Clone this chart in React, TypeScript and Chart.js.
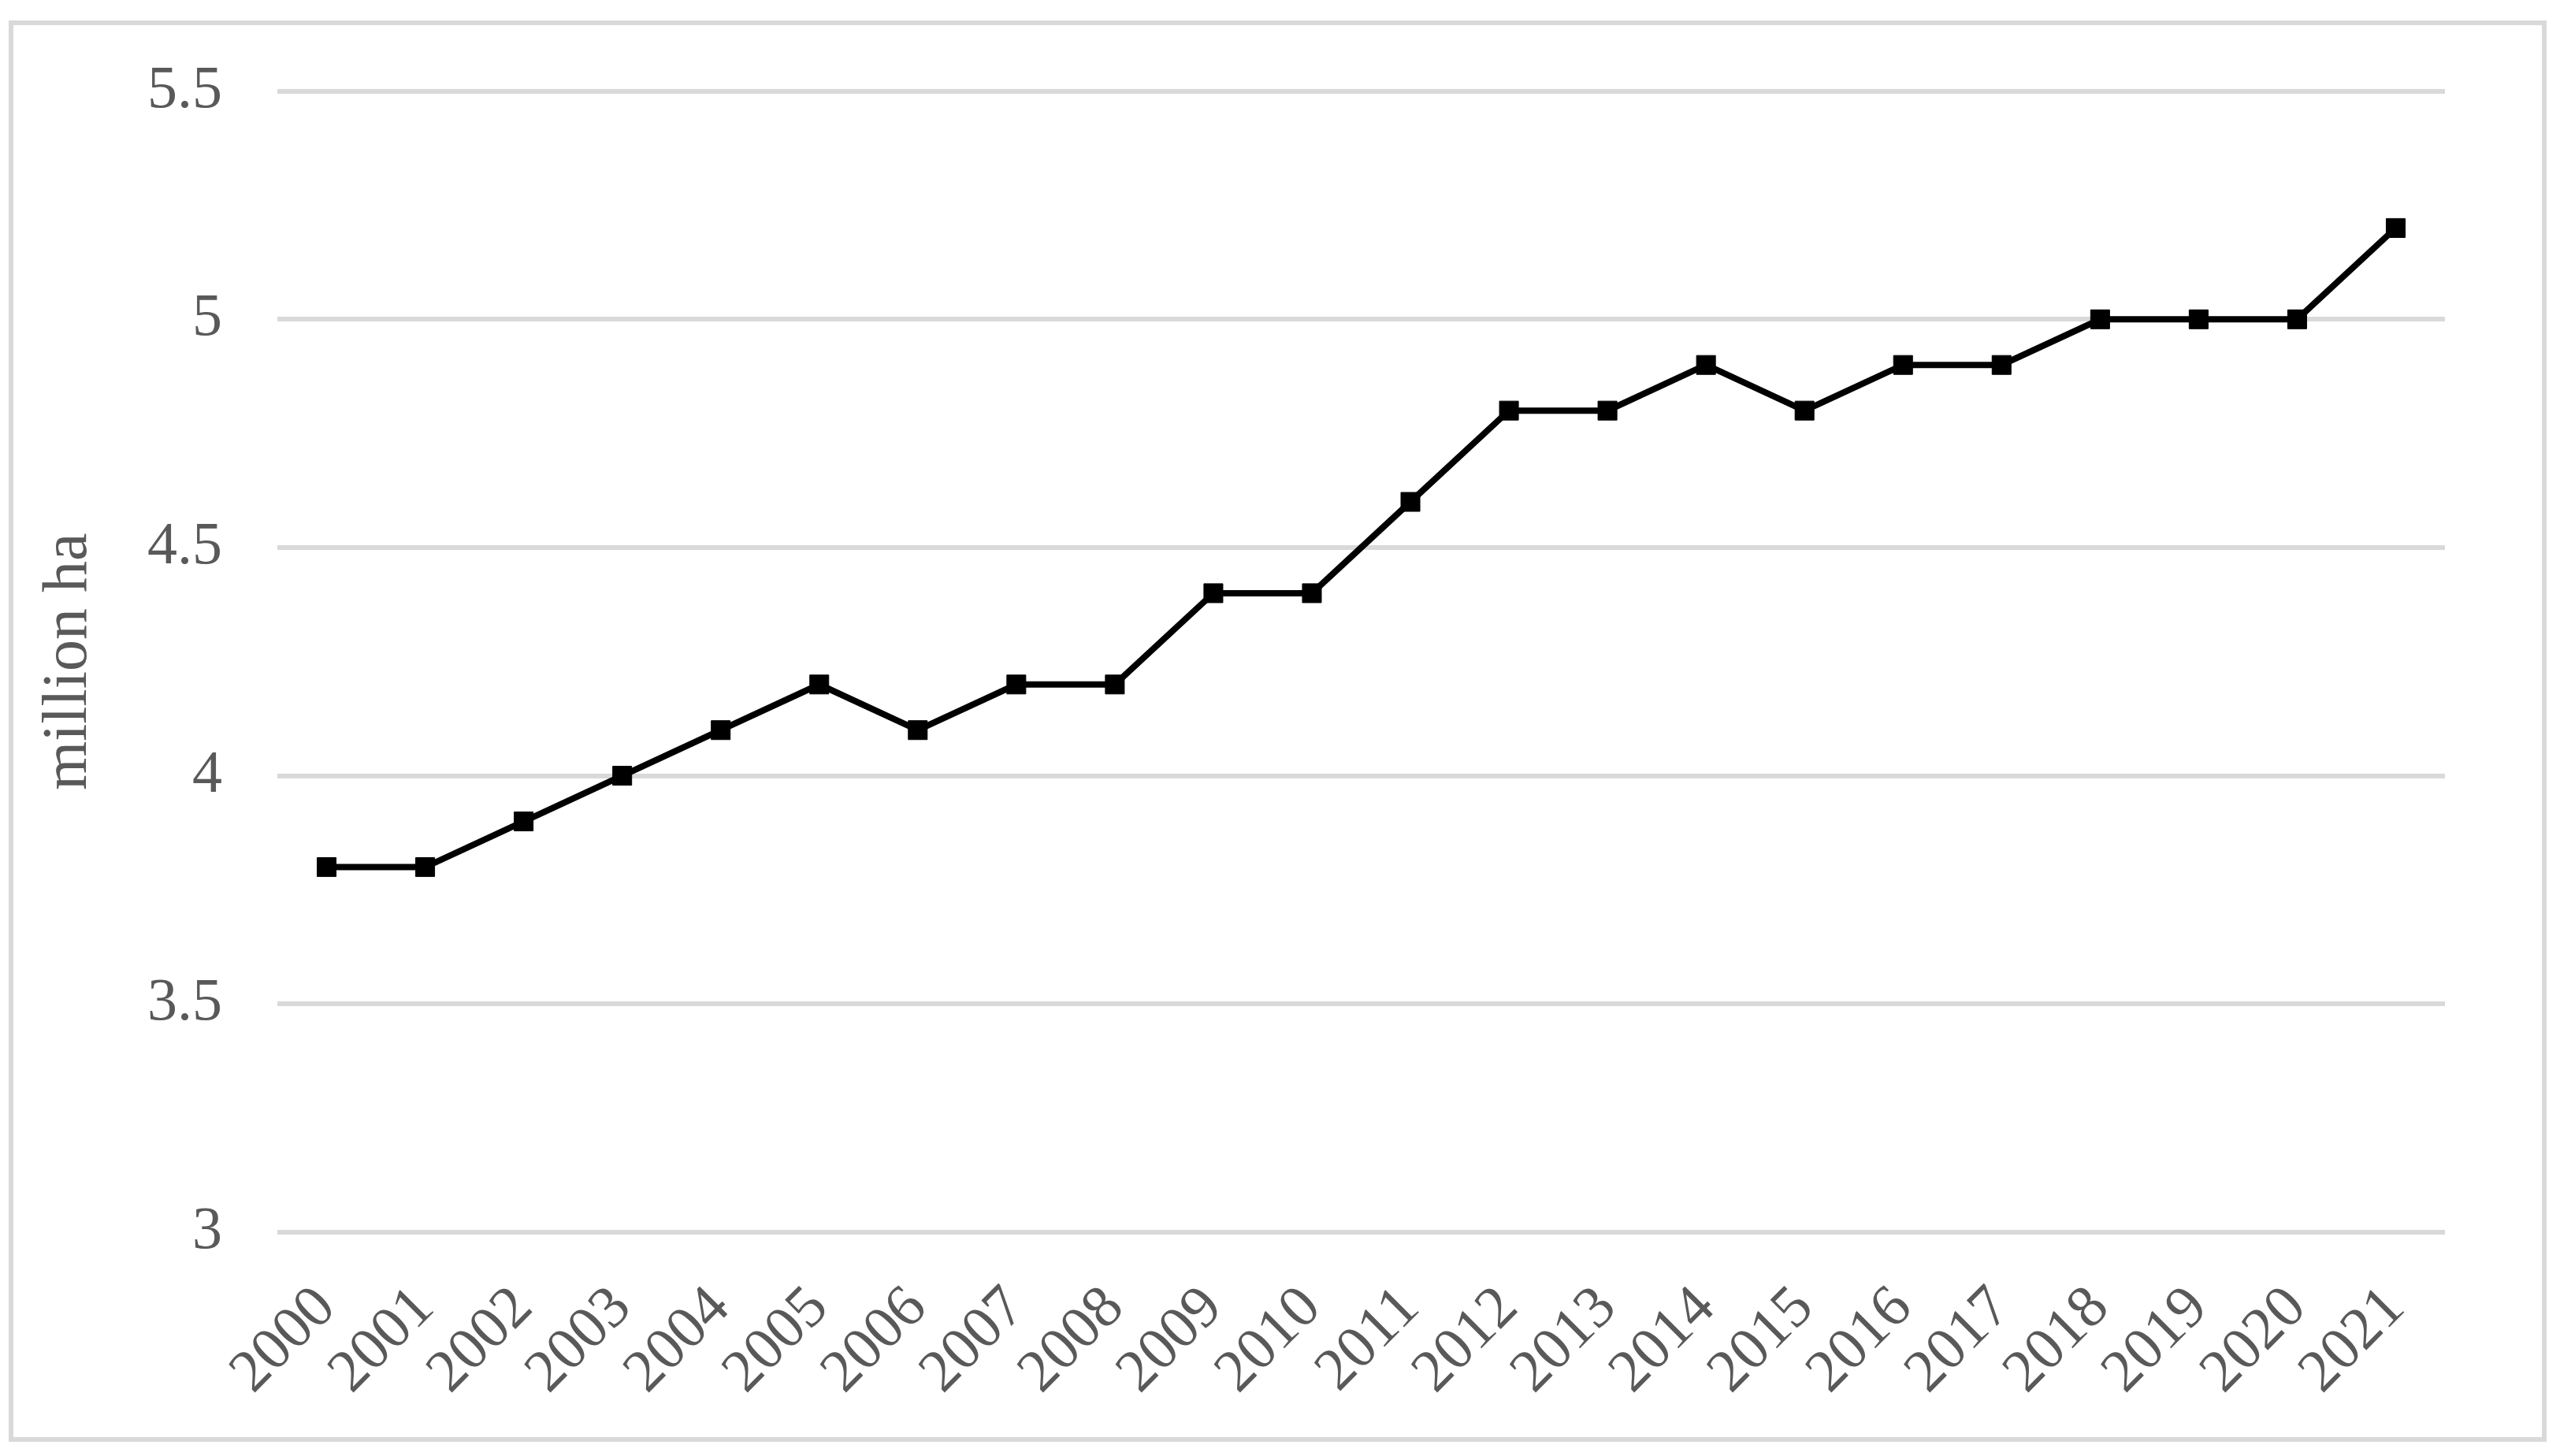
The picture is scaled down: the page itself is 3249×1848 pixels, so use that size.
import React, { useEffect, useRef } from "react";
import { Chart, registerables } from "chart.js";

Chart.register(...registerables);

const years: string[] = [
  "2000", "2001", "2002", "2003", "2004", "2005", "2006", "2007", "2008", "2009", "2010",
  "2011", "2012", "2013", "2014", "2015", "2016", "2017", "2018", "2019", "2020", "2021",
];
const areaMillionHa: number[] = [
  3.8, 3.8, 3.9, 4.0, 4.1, 4.2, 4.1, 4.2, 4.2, 4.4, 4.4,
  4.6, 4.8, 4.8, 4.9, 4.8, 4.9, 4.9, 5.0, 5.0, 5.0, 5.2,
];
const yMin = 3;
const yMax = 5.5;
const yStep = 0.5;
const yTitle = "million ha";

const W = 3249;
const H = 1848;
const FONT = "'Liberation Serif', 'Times New Roman', serif";
const TEXT = "#595959";
const GRID = "#d9d9d9";

export default function App() {
  const ref = useRef<HTMLCanvasElement | null>(null);

  useEffect(() => {
    if (!ref.current) return;
    const chart = new Chart(ref.current, {
      type: "line",
      data: {
        labels: years,
        datasets: [
          {
            data: areaMillionHa,
            borderColor: "#000000",
            backgroundColor: "#000000",
            borderWidth: 8,
            pointStyle: "rect",
            pointRadius: 17,
            pointBorderWidth: 1,
            pointBackgroundColor: "#000000",
            pointBorderColor: "#000000",
            tension: 0,
            fill: false,
          },
        ],
      },
      options: {
        responsive: false,
        animation: false,
        devicePixelRatio: 1,
        layout: { padding: { left: 0, top: 110, right: W - 3103, bottom: 0 } },
        plugins: {
          legend: { display: false },
          tooltip: { enabled: false },
        },
        scales: {
          x: {
            type: "category",
            offset: true,
            grid: { display: false, drawTicks: false },
            border: { display: false },
            ticks: {
              autoSkip: false,
              maxRotation: 45,
              minRotation: 45,
              padding: 52,
              color: TEXT,
              font: { family: FONT, size: 76 },
            },
            afterFit: (scale: any) => {
              scale.height = H - 1564;
            },
          },
          y: {
            min: yMin,
            max: yMax,
            ticks: {
              stepSize: yStep,
              padding: 70,
              color: TEXT,
              font: { family: FONT, size: 76 },
              callback: (v: any) => String(Number(v)),
            },
            grid: { color: GRID, lineWidth: 6, drawTicks: false },
            border: { display: false },
            title: {
              display: true,
              text: yTitle,
              color: TEXT,
              font: { family: FONT, size: 80 },
              padding: { top: 40, bottom: 0 },
            },
            afterFit: (scale: any) => {
              scale.width = 352;
            },
          },
        },
      },
    } as any);
    return () => chart.destroy();
  }, []);

  return (
    <div style={{ position: "absolute", left: 0, top: 0, width: W, height: H, background: "#ffffff" }}>
      <div
        style={{
          position: "absolute",
          left: 11,
          top: 26,
          width: 3232 - 11,
          height: 1830 - 26,
          border: `6px solid ${GRID}`,
          boxSizing: "border-box",
        }}
      />
      <canvas
        ref={ref}
        width={W}
        height={H}
        style={{ position: "absolute", left: 0, top: 0, width: W, height: H }}
      />
    </div>
  );
}
